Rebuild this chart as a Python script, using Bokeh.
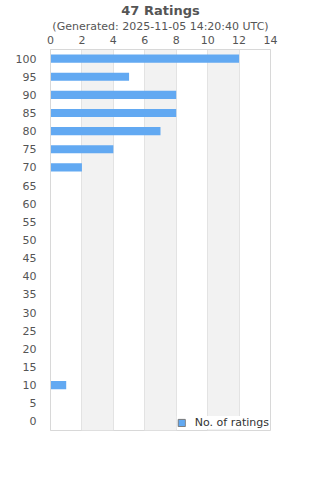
from bokeh.plotting import figure
from bokeh.models import (Range1d, FactorRange, FixedTicker, Title, Legend, LegendItem,
                          ColumnDataSource, CDSView, IndexFilter)
from bokeh.embed import file_html
from bokeh.resources import INLINE

title_text = "47 Ratings"
subtitle_text = "(Generated: 2025-11-05 14:20:40 UTC)"
ratings = [str(v) for v in range(0, 105, 5)]
counts = [0, 0, 1, 0, 0, 0, 0, 0, 0, 0, 0, 0, 0, 0, 2, 4, 7, 8, 8, 5, 12]
x_ticks = [0, 2, 4, 6, 8, 10, 12, 14]
series_name = "No. of ratings"

FONT = "DejaVu Sans"
TXT = "#555555"
BAR = "#62a9f2"

src = ColumnDataSource(dict(rating=ratings, count=counts))

p = figure(width=320, height=480, output_backend="svg", toolbar_location=None,
           y_range=FactorRange(*ratings), x_range=Range1d(0, 14),
           x_axis_location="above",
           min_border_left=50, min_border_right=50, min_border_bottom=50, min_border_top=0)

p.title.text = title_text
p.title.align = "center"
p.title.text_font = FONT
p.title.text_font_size = "13px"
p.title.text_font_style = "bold"
p.title.text_color = TXT
p.title.standoff = 0
p.add_layout(Title(text=subtitle_text, align="center", text_font=FONT, text_font_size="11px",
                   text_font_style="normal", text_color=TXT, standoff=0), "above")

r = p.hbar(y="rating", right="count", left=0, height=0.45, source=src,
           fill_color=BAR, line_color=None)
# zero-width bar (first row, count 0) used only as the legend swatch with a grey border
swatch = p.hbar(y="rating", right="count", left=0, height=0.45, source=src,
                view=CDSView(filter=IndexFilter([0])),
                fill_color=BAR, line_color="#777777", line_width=1)

p.xaxis.ticker = FixedTicker(ticks=x_ticks)
p.xaxis.major_tick_line_color = None
p.xaxis.minor_tick_line_color = None
p.xaxis.axis_line_color = "#d8d8d8"
p.xaxis.major_label_text_font = FONT
p.xaxis.major_label_text_font_size = "11px"
p.xaxis.major_label_text_color = TXT
p.xaxis.major_label_standoff = 0

p.yaxis.major_tick_line_color = None
p.yaxis.minor_tick_line_color = None
p.yaxis.axis_line_color = "#d8d8d8"
p.yaxis.major_label_text_font = FONT
p.yaxis.major_label_text_font_size = "11px"
p.yaxis.major_label_text_color = TXT
p.yaxis.major_label_standoff = 8

p.ygrid.visible = False
p.xgrid.grid_line_color = "#e3e3e3"
p.xgrid.band_fill_color = "#f2f2f2"
p.xgrid.band_fill_alpha = 1.0

p.outline_line_color = "#d8d8d8"
p.background_fill_color = "white"
p.border_fill_color = "white"

legend = Legend(items=[LegendItem(label=series_name, renderers=[swatch], index=0)],
                location="bottom_right", background_fill_color="white", background_fill_alpha=1,
                border_line_color=None, label_text_font=FONT, label_text_font_size="11px",
                label_text_color="#333333", glyph_width=9, glyph_height=9,
                padding=5, margin=1, label_standoff=9)
p.add_layout(legend)

open("out.html", "w").write(file_html(p, INLINE))
